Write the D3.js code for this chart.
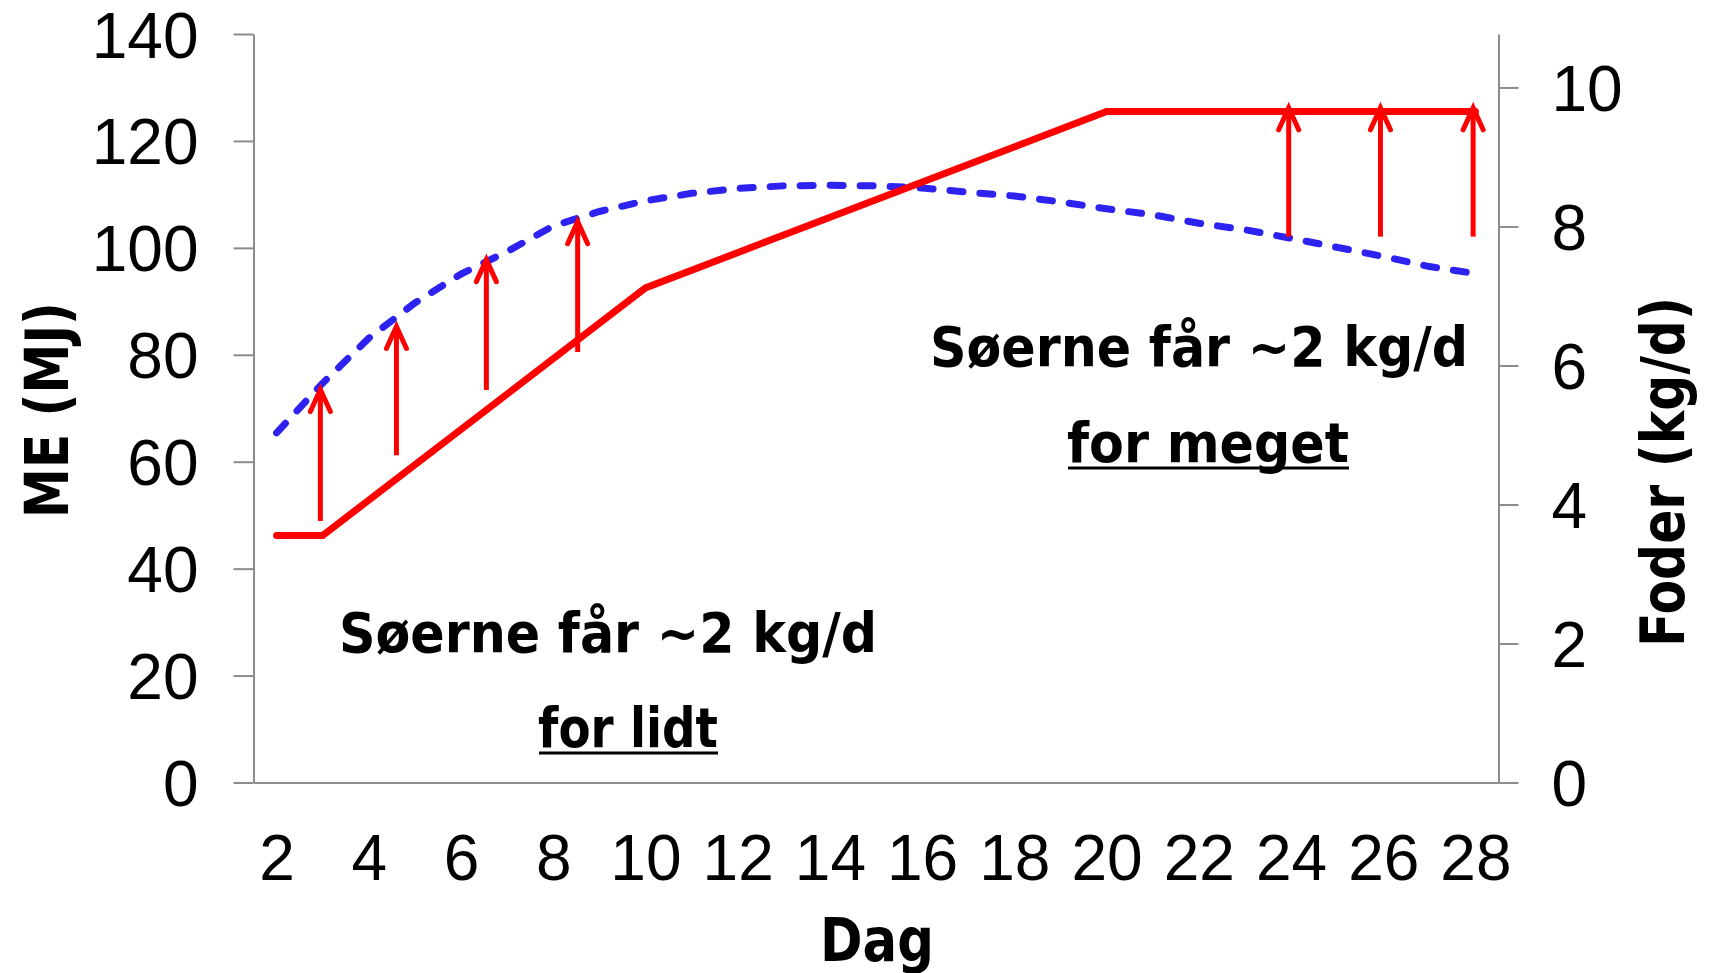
<!DOCTYPE html>
<html>
<head>
<meta charset="utf-8">
<script src="https://cdn.jsdelivr.net/npm/d3@7"></script>
<style>
  html, body { margin: 0; padding: 0; background: #ffffff; }
  svg { display: block; }
</style>
</head>
<body>
<svg id="chart" width="1709" height="973"></svg>
<script>
// Day of lactation (category axis, one slot per day)
const days = [2, 3, 4, 5, 6, 7, 8, 9, 10, 11, 12, 13, 14, 15, 16, 17, 18, 19, 20, 21, 22, 23, 24, 25, 26, 27, 28];
const dayTicks = [2, 4, 6, 8, 10, 12, 14, 16, 18, 20, 22, 24, 26, 28];

// Energy requirement of the sow, MJ ME per day (dashed blue)
const meNeed = [65.4, 74.7, 83.1, 89.7, 95.1, 99.3, 104.1, 106.8, 108.8, 110.2, 111.1, 111.6, 111.7, 111.6,
                111.2, 110.4, 109.7, 108.6, 107.3, 106.2, 104.6, 103.4, 101.8, 100.1, 98.4, 96.5, 95.2];

// Feeding plan, MJ ME per day (solid red), given at its break points
const planDays = [2, 3, 10, 20, 28];
const planME = [46.2, 46.2, 92.5, 125.5, 125.5];

// Gap arrows: day position, start and end (MJ ME)
const arrowDays = [2.95, 4.6, 6.55, 8.53, 23.95, 25.94, 27.95];
const arrowFrom = [48.9, 61.2, 73.4, 80.5, 102.1, 102.1, 102.1];
const arrowTo   = [73.5, 85.3, 97.8, 104.9, 126.2, 126.2, 126.2];

// Axis ticks
const meTicks = [0, 20, 40, 60, 80, 100, 120, 140];
const foderTicks = [0, 2, 4, 6, 8, 10];
const meMax = 140;
const mePerKg = 13;   // MJ ME per kg feed links the two y axes

const svg = d3.select("#chart");
const plotLeft = 253.5, plotRight = 1498.5, plotTop = 34, plotBottom = 782.5;

const x = d3.scaleLinear().domain([days[0] - 0.5, days[days.length - 1] + 0.5]).range([plotLeft, plotRight]);
const y = d3.scaleLinear().domain([0, meMax]).range([plotBottom, plotTop]);
const yR = d3.scaleLinear().domain([0, meMax / mePerKg]).range([plotBottom, plotTop]);

const axisColor = "#8c8c8c";
const tickFont = "'Liberation Sans', Arial, sans-serif";
const titleFont = "'DejaVu Sans', Verdana, sans-serif";

function styleAxis(g) {
  g.select(".domain").attr("stroke", axisColor).attr("stroke-width", 2);
  g.selectAll(".tick line").attr("stroke", axisColor).attr("stroke-width", 2);
  g.selectAll(".tick text")
    .attr("fill", "#000")
    .style("font-family", tickFont)
    .style("font-size", "64px");
}

// Left axis: ME (MJ)
svg.append("g")
  .attr("transform", `translate(${plotLeft},0)`)
  .call(d3.axisLeft(y).tickValues(meTicks).tickSizeInner(20).tickSizeOuter(0).tickPadding(35).tickFormat(d3.format("d")))
  .call(styleAxis)
  .call(g => g.selectAll(".tick text").attr("dy", "0.36em"));

// Right axis: Foder (kg/d)
svg.append("g")
  .attr("transform", `translate(${plotRight},0)`)
  .call(d3.axisRight(yR).tickValues(foderTicks).tickSizeInner(20).tickSizeOuter(0).tickPadding(33).tickFormat(d3.format("d")))
  .call(styleAxis)
  .call(g => g.selectAll(".tick text").attr("dy", "0.36em"));

// Bottom axis: Dag
svg.append("g")
  .attr("transform", `translate(0,${plotBottom})`)
  .call(d3.axisBottom(x).tickValues(dayTicks).tickSizeInner(0).tickSizeOuter(0).tickFormat(d3.format("d")))
  .call(styleAxis)
  .call(g => g.selectAll(".tick text").attr("y", 97.5).attr("dy", 0));

// Requirement curve
const needPts = days.map((d, i) => ({ day: d, v: meNeed[i] }));
const line = d3.line().x(d => x(d.day)).y(d => y(d.v));
svg.append("path")
  .datum(needPts)
  .attr("d", line)
  .attr("fill", "none")
  .attr("stroke", "#2d22f0")
  .attr("stroke-width", 7)
  .attr("stroke-linecap", "round")
  .attr("stroke-dasharray", "13,17");

// Feeding plan
const planPts = planDays.map((d, i) => ({ day: d, v: planME[i] }));
svg.append("path")
  .datum(planPts)
  .attr("d", line)
  .attr("fill", "none")
  .attr("stroke", "#ff0000")
  .attr("stroke-width", 7)
  .attr("stroke-linecap", "round")
  .attr("stroke-linejoin", "miter");

// Arrows
const arrows = svg.append("g")
  .attr("stroke", "#ff0000")
  .attr("stroke-width", 5)
  .attr("fill", "none")
  .attr("stroke-linecap", "round");
arrowDays.forEach((d, i) => {
  const ax = x(d), y0 = y(arrowFrom[i]), y1 = y(arrowTo[i]);
  arrows.append("line").attr("x1", ax).attr("x2", ax).attr("y1", y0).attr("y2", y1 + 2).attr("stroke-linecap", "butt");
  arrows.append("path").attr("d", `M${ax - 10},${y1 + 22}L${ax},${y1}L${ax + 10},${y1 + 22}`)
    .attr("stroke-linejoin", "miter");
});

// Axis titles
svg.append("text")
  .attr("transform", "translate(68,410) rotate(-90)")
  .attr("text-anchor", "middle")
  .attr("textLength", 216).attr("lengthAdjust", "spacingAndGlyphs")
  .style("font-family", titleFont).style("font-weight", "bold").style("font-size", "60px")
  .text("ME (MJ)");

svg.append("text")
  .attr("transform", "translate(1684,472) rotate(-90)")
  .attr("text-anchor", "middle")
  .attr("textLength", 350).attr("lengthAdjust", "spacingAndGlyphs")
  .style("font-family", titleFont).style("font-weight", "bold").style("font-size", "60px")
  .text("Foder (kg/d)");

svg.append("text")
  .attr("x", 877).attr("y", 961)
  .attr("text-anchor", "middle")
  .attr("textLength", 114).attr("lengthAdjust", "spacingAndGlyphs")
  .style("font-family", titleFont).style("font-weight", "bold").style("font-size", "60px")
  .text("Dag");

// Annotations
function note(txt, x0, baseline, width, underline) {
  svg.append("text")
    .attr("x", x0).attr("y", baseline)
    .attr("textLength", width).attr("lengthAdjust", "spacingAndGlyphs")
    .style("font-family", titleFont).style("font-weight", "bold").style("font-size", "55px")
    .text(txt);
  if (underline) {
    svg.append("line")
      .attr("x1", x0 + 1).attr("x2", x0 + width)
      .attr("y1", baseline + 6).attr("y2", baseline + 6)
      .attr("stroke", "#000").attr("stroke-width", 3);
  }
}
note("Søerne får ~2 kg/d", 339, 652, 538, false);
note("for lidt", 538, 747, 180, true);
note("Søerne får ~2 kg/d", 930, 366, 538, false);
note("for meget", 1067, 462, 282, true);
</script>
</body>
</html>
